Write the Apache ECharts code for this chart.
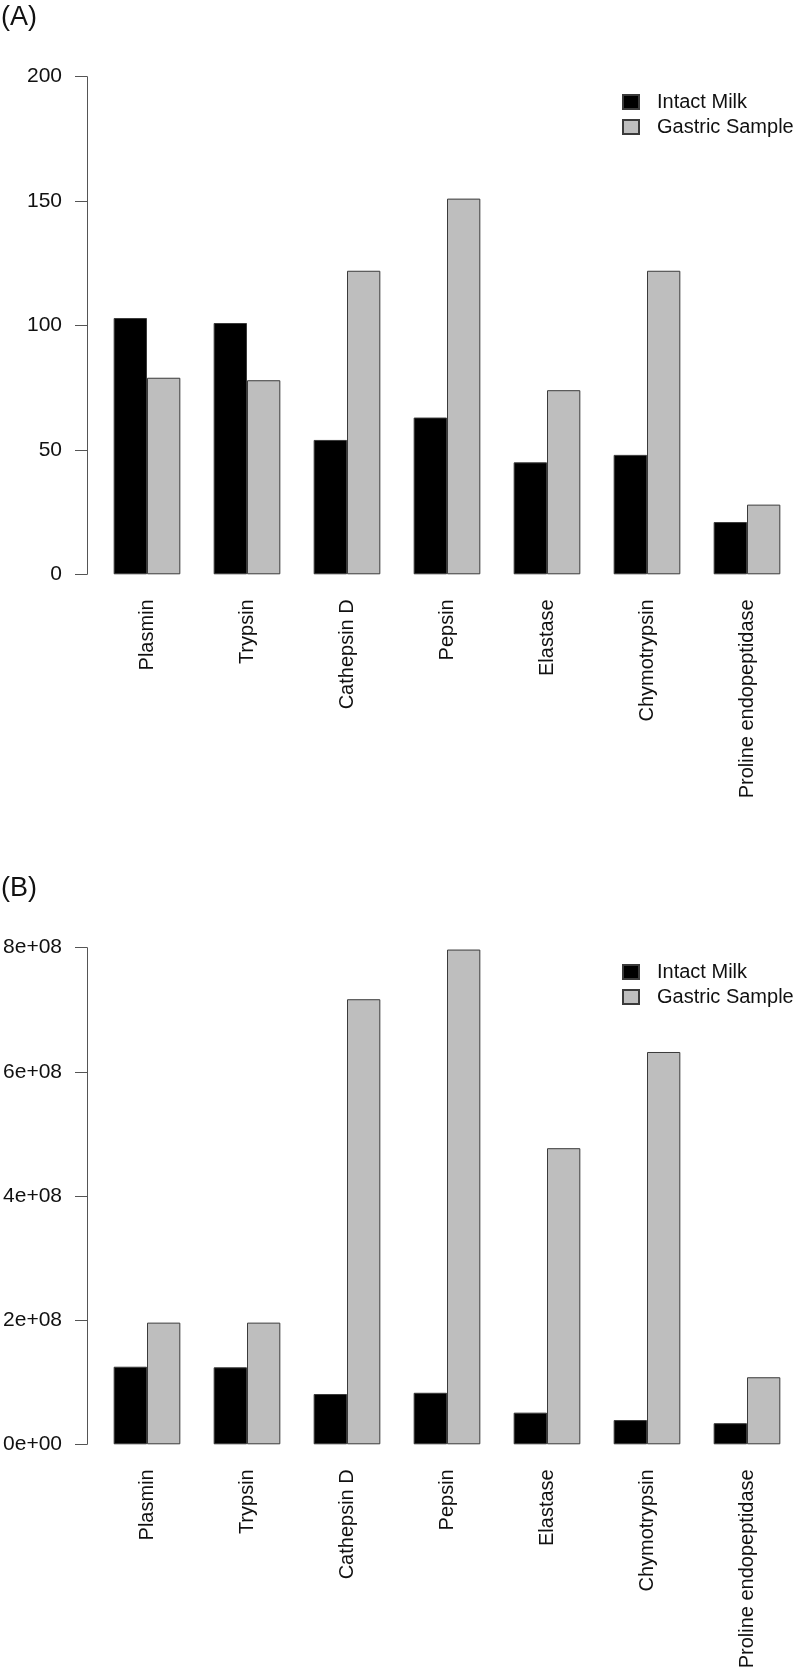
<!DOCTYPE html>
<html>
<head>
<meta charset="utf-8">
<script src="https://cdn.jsdelivr.net/npm/echarts@6/dist/echarts.min.js"></script>
<style>
html,body{margin:0;padding:0;background:#fff;}
#chart{width:800px;height:1677px;}
</style>
</head>
<body>
<div id="chart"></div>
<script>
// ---- data ----
const categories = ['Plasmin', 'Trypsin', 'Cathepsin D', 'Pepsin', 'Elastase', 'Chymotrypsin', 'Proline endopeptidase'];
const seriesNames = ['Intact Milk', 'Gastric Sample'];

// Panel A
const intactA = [103, 101, 54, 63, 45, 48, 21];
const gastricA = [79, 78, 122, 151, 74, 122, 28];
const yTicksA = [0, 50, 100, 150, 200];
const yTickLabelsA = ['0', '50', '100', '150', '200'];

// Panel B
const intactB = [1.25e8, 1.24e8, 0.81e8, 0.83e8, 0.51e8, 0.39e8, 0.34e8];
const gastricB = [1.96e8, 1.96e8, 7.17e8, 7.97e8, 4.77e8, 6.32e8, 1.08e8];
const yTicksB = [0, 2e8, 4e8, 6e8, 8e8];
const yTickLabelsB = ['0e+00', '2e+08', '4e+08', '6e+08', '8e+08'];

const panelLabels = ['(A)', '(B)'];

// ---- chart ----
const FONT = '"Liberation Sans", Arial, sans-serif';
const chart = echarts.init(document.getElementById('chart'), null, {renderer: 'canvas'});

function makeY(gridIndex, ticks, labels) {
  return {
    type: 'value', gridIndex: gridIndex,
    min: ticks[0], max: ticks[ticks.length - 1], interval: ticks[1] - ticks[0],
    offset: 10,
    splitLine: {show: false},
    axisLine: {show: true, lineStyle: {color: '#555', width: 1}},
    axisTick: {show: true, length: 12, lineStyle: {color: '#555', width: 1}},
    axisLabel: {
      margin: 25, fontSize: 21, fontFamily: FONT, color: '#111',
      formatter: function (v) { const i = ticks.indexOf(v); return i >= 0 ? labels[i] : ''; }
    }
  };
}
function makeX(gridIndex) {
  return {
    type: 'category', gridIndex: gridIndex, data: categories,
    axisLine: {show: false}, axisTick: {show: false},
    axisLabel: {rotate: 90, margin: 25, fontSize: 20, fontFamily: FONT, color: '#111', interval: 0}
  };
}
function makeBar(name, data, idx, color) {
  return {
    type: 'bar', name: name, data: data, xAxisIndex: idx, yAxisIndex: idx,
    barGap: '0%', barCategoryGap: '33.33%',
    itemStyle: {color: color, borderColor: '#3a3a3a', borderWidth: 1},
    emphasis: {disabled: true}
  };
}
function makeLegend(top) {
  return {
    orient: 'vertical', left: 622, top: top, padding: 0,
    data: seriesNames, icon: 'rect', itemWidth: 16, itemHeight: 14, itemGap: 5,
    textStyle: {fontSize: 20, fontFamily: FONT, color: '#111', lineHeight: 20, padding: [0, 0, 0, 13]},
    selectedMode: false
  };
}

chart.setOption({
  animation: false,
  backgroundColor: '#fff',
  title: [
    {text: panelLabels[0], left: 0, top: 2, padding: [2, 2, 2, 1], textStyle: {fontSize: 27, fontWeight: 'normal', fontFamily: FONT, color: '#111'}},
    {text: panelLabels[1], left: 0, top: 873, padding: [2, 2, 2, 1], textStyle: {fontSize: 27, fontWeight: 'normal', fontFamily: FONT, color: '#111'}}
  ],
  legend: [makeLegend(92), makeLegend(962)],
  grid: [
    {left: 97, width: 700, top: 76.7, height: 497.6},
    {left: 97, width: 700, top: 947.7, height: 496.6}
  ],
  xAxis: [makeX(0), makeX(1)],
  yAxis: [makeY(0, yTicksA, yTickLabelsA), makeY(1, yTicksB, yTickLabelsB)],
  series: [
    makeBar(seriesNames[0], intactA, 0, '#000000'),
    makeBar(seriesNames[1], gastricA, 0, '#bebebe'),
    makeBar(seriesNames[0], intactB, 1, '#000000'),
    makeBar(seriesNames[1], gastricB, 1, '#bebebe')
  ]
});
</script>
</body>
</html>
